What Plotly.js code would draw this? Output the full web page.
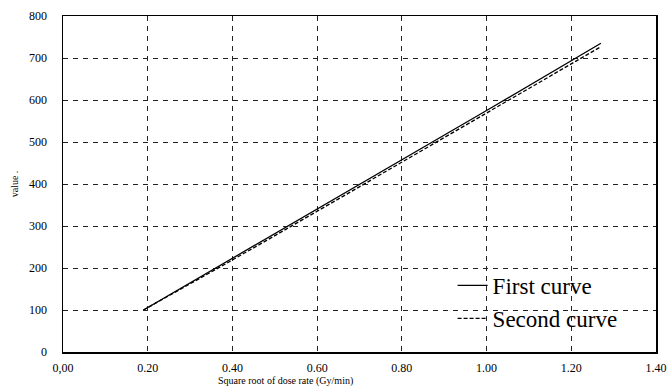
<!DOCTYPE html>
<html><head><meta charset="utf-8">
<script src="https://cdn.plot.ly/plotly-3.0.1.min.js"></script>
<style>body{margin:0;padding:0;background:#fff}#c{width:668px;height:390px}</style>
</head><body><div id="c"></div>
<script>
var xFirst = [0.19, 0.40, 0.60, 0.80, 1.00, 1.27];
var yFirst = [100, 223, 340, 458, 575, 735];
var xSecond = [0.19, 0.40, 0.60, 0.80, 1.00, 1.27];
var ySecond = [100, 219, 335, 452, 567, 727];
var xTicks = [0, 0.2, 0.4, 0.6, 0.8, 1.0, 1.2, 1.4];
var xTickText = ['0,00', '0.20', '0.40', '0.60', '0.80', '1.00', '1.20', '1.40'];
var yTicks = [0, 100, 200, 300, 400, 500, 600, 700, 800];

var font = 'Liberation Serif, Times New Roman, serif';
var traces = [
  {x: xFirst, y: yFirst, name: 'First curve', mode: 'lines', line: {color: '#000', width: 1.3}},
  {x: xSecond, y: ySecond, name: 'Second curve', mode: 'lines', line: {color: '#000', width: 1.3, dash: '4px,2px'}}
];
var layout = {
  width: 668, height: 390,
  margin: {l: 63, r: 12, t: 16, b: 38},
  paper_bgcolor: '#fff', plot_bgcolor: '#fff',
  font: {family: font, color: '#000', size: 12},
  xaxis: {range: [0, 1.4], tickvals: xTicks, ticktext: xTickText, showgrid: true,
    gridcolor: '#222', griddash: '5px,5px', gridwidth: 1, zeroline: false,
    showline: true, linecolor: '#000', linewidth: 1.5, mirror: true, ticks: '',
    ticklabelstandoff: 4, tickfont: {family: font, size: 12}},
  yaxis: {range: [0, 800], tickvals: yTicks, showgrid: true,
    gridcolor: '#222', griddash: '5px,5px', gridwidth: 1, zeroline: false,
    showline: true, linecolor: '#000', linewidth: 1.5, mirror: true, ticks: '',
    ticklabelstandoff: 12, tickfont: {family: font, size: 12},
    title: {text: 'value .', font: {family: font, size: 10}, standoff: 8}},
  showlegend: true,
  legend: {x: 0.657, y: 0.262, xanchor: 'left', yanchor: 'top', bgcolor: 'rgba(0,0,0,0)',
    font: {family: font, size: 23}, tracegroupgap: 0, itemwidth: 30},
  annotations: [{text: 'Square root of dose rate (Gy/min)', xref: 'paper', yref: 'paper',
    x: 0.375, y: 0, yshift: -29, xanchor: 'center', yanchor: 'middle', showarrow: false,
    font: {family: font, size: 10}}]
};
Plotly.newPlot('c', traces, layout, {staticPlot: true});
</script></body></html>
